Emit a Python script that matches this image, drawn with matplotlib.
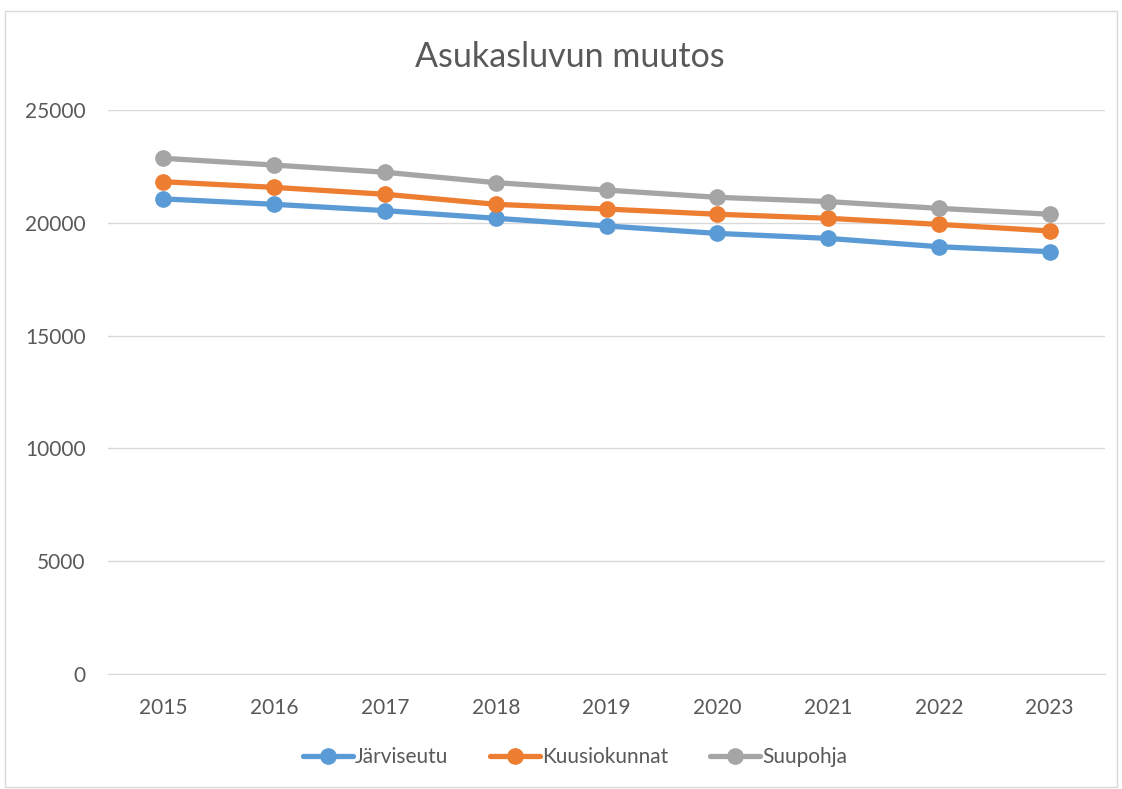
import matplotlib.pyplot as plt
from matplotlib.patches import Rectangle

# Vuodet ja asukasluvut (luettu kuvasta)
vuodet = ['2015', '2016', '2017', '2018', '2019', '2020', '2021', '2022', '2023']
jarviseutu = [21060, 20820, 20540, 20200, 19860, 19530, 19310, 18940, 18720]
kuusiokunnat = [21820, 21570, 21265, 20820, 20610, 20380, 20200, 19930, 19640]
suupohja = [22860, 22560, 22240, 21780, 21450, 21130, 20940, 20640, 20380]

sarjat = ['Järviseutu', 'Kuusiokunnat', 'Suupohja']
varit = ['#5B9BD5', '#ED7D31', '#A5A5A5']
teksti = '#595959'

plt.rcParams['font.family'] = ['Lato', 'DejaVu Sans']

fig = plt.figure(figsize=(11.22, 7.89), dpi=100)
ax = fig.add_axes([108/1122, 1 - 674/789, (1105 - 108)/1122, (674 - 110)/789])

# reunus koko kaavion ympärille
fig.patches.append(Rectangle((5/1122, 0.003), 1112/1122, 1 - 11/789 - 0.003,
                             transform=fig.transFigure, fill=False,
                             edgecolor='#D9D9D9', linewidth=1))

x = range(len(vuodet))
for nimi, arvot, vari in zip(sarjat, [jarviseutu, kuusiokunnat, suupohja], varit):
    ax.plot(x, arvot, color=vari, linewidth=3.8, marker='o', markersize=11,
            label=nimi, solid_capstyle='round')

ax.set_xlim(-0.5, len(vuodet) - 0.5)
ax.set_ylim(0, 25000)
ax.set_yticks(range(0, 25001, 5000))
ax.set_xticks(list(x))
ax.set_xticklabels(vuodet)
ax.grid(axis='y', color='#D9D9D9', linewidth=1)
ax.set_axisbelow(True)
for s in ['top', 'right', 'left']:
    ax.spines[s].set_visible(False)
ax.spines['bottom'].set_color('#D9D9D9')
ax.tick_params(axis='both', length=0, labelsize=15, colors=teksti)
ax.tick_params(axis='x', pad=17)
ax.tick_params(axis='y', pad=16)

fig.text(570/1122, 1 - 57/789, 'Asukasluvun muutos', ha='center', va='center',
         fontsize=24.5, color=teksti)

fig.legend(loc='center', bbox_to_anchor=(575/1122, 1 - 757/789), ncol=3,
           frameon=False, fontsize=15, labelcolor=teksti, handlelength=2.4,
           handletextpad=0.1, columnspacing=2.0)

fig.savefig('out.png', dpi=100)
